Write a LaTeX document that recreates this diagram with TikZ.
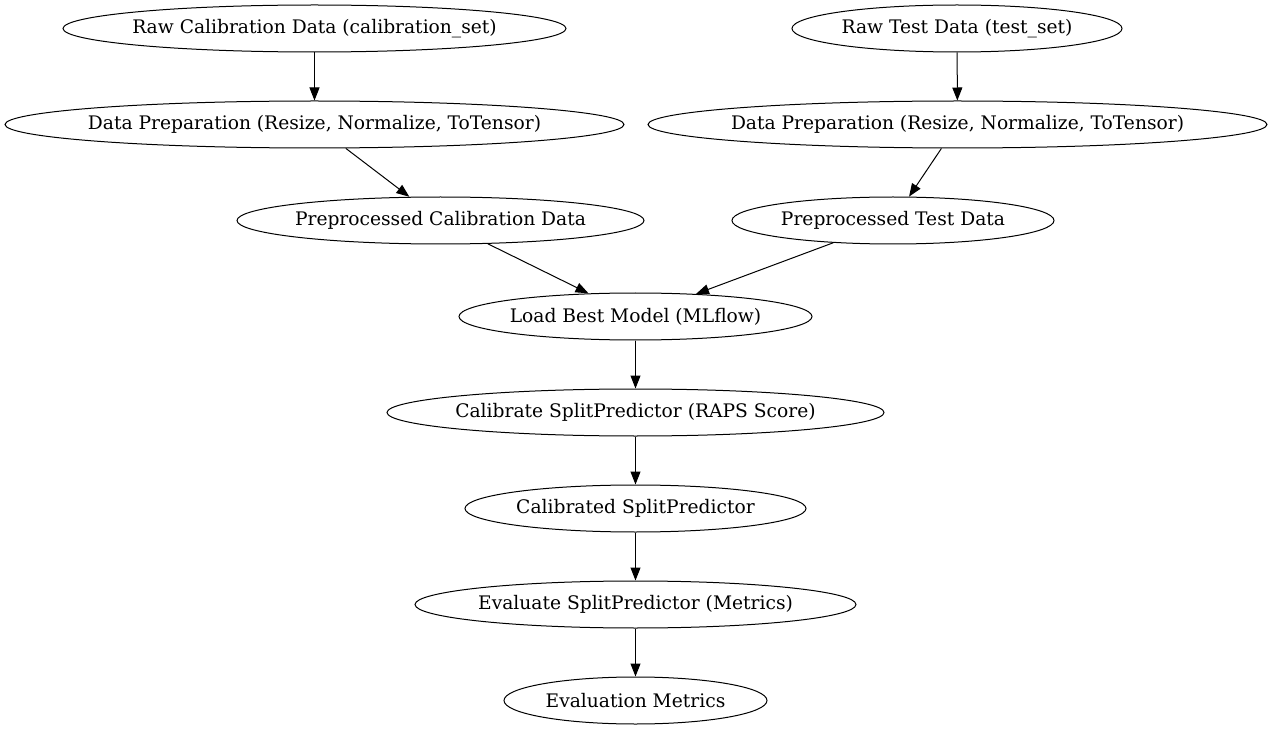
\documentclass[tikz,border=0pt]{standalone}
\usepackage{fontspec}
\setmainfont{DejaVu Serif}
\usetikzlibrary{shapes.geometric,arrows.meta}

\newlength{\du}
\setlength{\du}{0.75pt}
\newcommand{\flowlabel}[1]{\makebox[0pt]{#1}}

\tikzset{
  flownode/.style={ellipse, draw, line width=1\du, inner sep=0pt,
    minimum height=47\du, font=\fontsize{14}{17}\selectfont},
  flowedge/.style={-{Triangle[length=9.75pt,width=7.5pt]}, line width=1\du}
}

\begin{document}
\begin{tikzpicture}[yscale=-1]
\useasboundingbox (0\du,0\du) rectangle (1272\du,731\du);
% calibration branch
\node[flownode, minimum width=503\du] (rawcal) at (314.5\du,28.5\du){\flowlabel{Raw Calibration Data (calibration\_set)}};
\node[flownode, minimum width=619\du] (prepcal) at (314.5\du,124.5\du){\flowlabel{Data Preparation (Resize, Normalize, ToTensor)}};
\node[flownode, minimum width=407\du] (ppcal) at (440.5\du,220.5\du){\flowlabel{Preprocessed Calibration Data}};
% test branch
\node[flownode, minimum width=330\du] (rawtest) at (957\du,28.5\du){\flowlabel{Raw Test Data (test\_set)}};
\node[flownode, minimum width=619\du] (preptest) at (957.5\du,124.5\du){\flowlabel{Data Preparation (Resize, Normalize, ToTensor)}};
\node[flownode, minimum width=322\du] (pptest) at (893\du,220.5\du){\flowlabel{Preprocessed Test Data}};
% model and predictor
\node[flownode, minimum width=353\du] (loadmodel) at (635.5\du,316.5\du){\flowlabel{Load Best Model (MLflow)}};
\node[flownode, minimum width=497\du] (calibrate) at (635.5\du,412.5\du){\flowlabel{Calibrate SplitPredictor (RAPS Score)}};
\node[flownode, minimum width=341\du] (calibrated) at (635.5\du,508.5\du){\flowlabel{Calibrated SplitPredictor}};
\node[flownode, minimum width=441\du] (evaluate) at (635.5\du,604.5\du){\flowlabel{Evaluate SplitPredictor (Metrics)}};
\node[flownode, minimum width=263\du] (metrics) at (635.5\du,700.5\du){\flowlabel{Evaluation Metrics}};
% edges
\draw[flowedge] (rawcal) -- (prepcal);
\draw[flowedge] (prepcal) -- (ppcal);
\draw[flowedge] (rawtest) -- (preptest);
\draw[flowedge] (preptest) -- (pptest);
\draw[flowedge] (ppcal) -- (loadmodel);
\draw[flowedge] (pptest) -- (loadmodel);
\draw[flowedge] (loadmodel) -- (calibrate);
\draw[flowedge] (calibrate) -- (calibrated);
\draw[flowedge] (calibrated) -- (evaluate);
\draw[flowedge] (evaluate) -- (metrics);
\end{tikzpicture}
\end{document}
